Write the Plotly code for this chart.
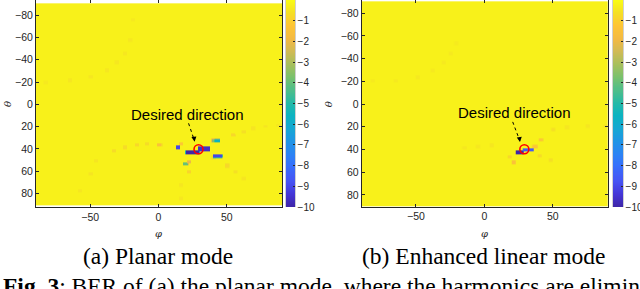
import numpy as np
import plotly.graph_objects as go

# ---------------- data ----------------
phi_axis = np.arange(-90, 91, 1)      # phi grid (deg)
theta_axis = np.arange(-90, 91, 1)    # theta grid (deg)
background_ber = -0.22                 # log10 BER of the flat region

# Panel (a) planar mode: rectangular patches (phi0, phi1, theta0, theta1, log10 BER)
a_rect_phi0 = [19.5, 28.5, 12.5, 40.5, 38.5, 39.5, 18, 21]
a_rect_phi1 = [29.5, 38, 16, 44.5, 40.5, 46.5, 21.5, 23.5]
a_rect_th0 = [40.5, 37.5, 37, 31, 31, 44.5, 51.5, 49.5]
a_rect_th1 = [45, 41.5, 40, 34, 34, 47.5, 54.5, 52.5]
a_rect_val = [-10, -9.6, -9, -5.6, -3.5, -9, -4, -2]

# Panel (a): faint sidelobe dashes (phi, theta, log10 BER)
a_dash_phi = [0, 16, 22, 50, 54, -33, -25, -16, -9, 1, -46, -50, -58,
              -83, -65, -50, -38, -31, -25, -21, -19,
              55, 62, 69, 78, 87, 40, 50, 56, 62, 16, 16]
a_dash_theta = [36, 35, 60, 55, 27, 41, 38, 36, 35, 36, 50, 62, 77,
                -20, -22, -25, -31, -38, -46, -58, -76,
                27.5, 24, 21, 19.5, 18.5, 47, 54, 60, 66, 72, 84]
a_dash_val = [-1.4, -1.2, -0.9, -0.8, -0.8, -0.7, -0.7, -0.8, -0.7, -0.9, -0.5, -0.5, -0.45,
              -0.4, -0.45, -0.45, -0.45, -0.45, -0.45, -0.45, -0.4,
              -0.6, -0.6, -0.5, -0.5, -0.45, -0.7, -0.7, -0.6, -0.5, -0.45, -0.45]

# Panel (b) enhanced linear mode: rectangular patches
b_rect_phi0 = [22.5, 27.5]
b_rect_phi1 = [28.5, 35.5]
b_rect_th0 = [41, 39]
b_rect_th1 = [44, 42]
b_rect_val = [-10, -8.6]

# Panel (b): faint sidelobe dashes
b_dash_phi = [41, 36.5, 20.7, 50, 18, -82, -65, -49, -38, -30, -25, -21,
              -15, -5, 5, 40, 48, 60, 75, 88]
b_dash_theta = [31, 37, 51, 22, 46, -21, -21, -24, -30, -37, -45, -54,
                38, 37, 36, 45, 49, 20, 19, 19]
b_dash_val = [-1.2, -1.3, -1.4, -0.6, -0.8, -0.38, -0.4, -0.4, -0.4, -0.4, -0.4, -0.38,
              -0.42, -0.42, -0.45, -0.7, -0.6, -0.45, -0.45, -0.42]

# desired direction marker
a_target = (29.3, 40.3)
b_target = (29.2, 39.8)

# colour bar ticks
cbar_ticks = [-1, -2, -3, -4, -5, -6, -7, -8, -9, -10]
cbar_levels = np.linspace(-10, 0, 201)
x_ticks = [-50, 0, 50]
y_ticks = [-80, -60, -40, -20, 0, 20, 40, 60, 80]

# ---------------- build grids ----------------
def build_grid(r0, r1, t0, t1, rv, dp, dt, dv):
    P, T = np.meshgrid(phi_axis, theta_axis)
    Z = np.full(P.shape, background_ber, dtype=float)
    for p, t, v in zip(dp, dt, dv):
        m = (np.abs(P - p) <= 1.6) & (np.abs(T - t) <= 1.0)
        Z[m] = np.minimum(Z[m], v)
    for a, b, c, d, v in zip(r0, r1, t0, t1, rv):
        m = (P >= a) & (P < b) & (T >= c) & (T < d)
        Z[m] = v
    return Z

Za = build_grid(a_rect_phi0, a_rect_phi1, a_rect_th0, a_rect_th1, a_rect_val,
                a_dash_phi, a_dash_theta, a_dash_val)
Zb = build_grid(b_rect_phi0, b_rect_phi1, b_rect_th0, b_rect_th1, b_rect_val,
                b_dash_phi, b_dash_theta, b_dash_val)

parula = [
    [0.000, "#3e26a8"], [0.060, "#4435d6"], [0.125, "#4653f3"], [0.200, "#3670fc"],
    [0.250, "#2d81f5"], [0.320, "#1f96e4"], [0.375, "#17a6d4"], [0.440, "#0cb3c1"],
    [0.500, "#24b9a8"], [0.560, "#4bbd8c"], [0.625, "#78c16d"], [0.690, "#a7bf5c"],
    [0.750, "#d0ba55"], [0.810, "#f2b944"], [0.875, "#fec535"], [0.940, "#f5e024"],
    [1.000, "#f9fb15"],
]

TXT = "#262626"
tick_font = dict(family="Liberation Sans, Arial", size=10.5, color=TXT)

fig = go.Figure()
for z, xa, ya in [(Za, "x", "y"), (Zb, "x2", "y2")]:
    fig.add_trace(go.Heatmap(x=phi_axis, y=theta_axis, z=z, colorscale=parula,
                             zmin=-10, zmax=0, showscale=False, xaxis=xa, yaxis=ya,
                             zsmooth="best", hoverinfo="skip"))
for tgt, xa, ya in [(a_target, "x", "y"), (b_target, "x2", "y2")]:
    fig.add_trace(go.Scatter(x=[tgt[0]], y=[tgt[1]], mode="markers",
                             marker=dict(symbol="circle-open", size=9, color="#ff0000",
                                         line=dict(width=1.6, color="#ff0000")),
                             xaxis=xa, yaxis=ya, showlegend=False, hoverinfo="skip"))
# colour bars drawn as thin heatmap strips
for xa, ya in [("x3", "y3"), ("x4", "y4")]:
    fig.add_trace(go.Heatmap(x=[0], y=cbar_levels, z=[[v] for v in cbar_levels],
                             colorscale=parula, zmin=-10, zmax=0, showscale=False,
                             xaxis=xa, yaxis=ya, hoverinfo="skip"))

axis_common = dict(showline=True, linecolor=TXT, linewidth=1, mirror="allticks",
                   ticks="inside", ticklen=3, tickcolor=TXT, showgrid=False,
                   zeroline=False, tickfont=tick_font, automargin=False)
cb_x = dict(showline=False, showticklabels=False, ticks="", showgrid=False, zeroline=False,
            range=[-0.5, 0.5], automargin=False)
cb_y = dict(side="right", range=[-10, 0.0], tickvals=cbar_ticks, ticks="inside", ticklen=2,
            tickcolor=TXT, showline=True, linecolor="#b0b0b0", linewidth=0.6, mirror=True,
            showgrid=False, zeroline=False, automargin=False,
            tickfont=dict(family="Liberation Sans, Arial", size=10, color=TXT))

fig.update_layout(
    width=640, height=289, margin=dict(l=0, r=0, t=0, b=0, autoexpand=False),
    paper_bgcolor="white", plot_bgcolor="white", showlegend=False,
    xaxis=dict(domain=[36/640, 282/640], range=[-89.7, 90.4], tickvals=x_ticks,
               anchor="y", **axis_common),
    yaxis=dict(domain=[1 - 207/289, 1], range=[92, -93.5], tickvals=y_ticks,
               anchor="x", **axis_common),
    xaxis2=dict(domain=[361.7/640, 608/640], range=[-89.6, 90.3], tickvals=x_ticks,
                anchor="y2", **axis_common),
    yaxis2=dict(domain=[1 - 206.7/289, 1], range=[90.4, -91.7], tickvals=y_ticks,
                anchor="x2", **axis_common),
    xaxis3=dict(domain=[286/640, 295/640], anchor="y3", **cb_x),
    yaxis3=dict(domain=[1 - 207/289, 1], anchor="x3", **cb_y),
    xaxis4=dict(domain=[613/640, 623/640], anchor="y4", **cb_x),
    yaxis4=dict(domain=[1 - 207/289, 1], anchor="x4", **cb_y),
)

ann = []
# "Desired direction" labels
for xr, yr, tx, ty, t0, t1, h in [("x", "y", 21.4, 8.7, (22, 17), (26.0, 31.5), (26.4, 33.5)),
                                   ("x2", "y2", 21.7, 7.3, (20.7, 15.7), (25.6, 31.4), (26.0, 33.4))]:
    ann.append(dict(x=tx, y=ty, xref=xr, yref=yr, text="Desired direction", showarrow=False,
                    xanchor="center", yanchor="middle",
                    font=dict(family="Liberation Sans, Arial", size=15, color="black")))
    fig.add_shape(type="line", x0=t0[0], y0=t0[1], x1=t1[0], y1=t1[1], xref=xr, yref=yr,
                  line=dict(color="black", width=1, dash="dot"))
    ann.append(dict(x=h[0], y=h[1], ax=t1[0], ay=t1[1] - 1.5, xref=xr, yref=yr,
                    axref=xr, ayref=yr, text="", showarrow=True, arrowhead=2,
                    arrowsize=1, arrowwidth=1, arrowcolor="black"))

# axis labels
lab_font = dict(family="DejaVu Serif", size=10, color=TXT)
def paper_text(px, py, text, font, **kw):
    d = dict(x=px/640, y=1 - py/289, xref="paper", yref="paper", text=text,
             showarrow=False, font=font, xanchor="center", yanchor="middle")
    d.update(kw)
    return d

ann += [
    paper_text(8, 104, "<i>θ</i>", lab_font, textangle=-90),
    paper_text(329.3, 104, "<i>θ</i>", lab_font, textangle=-90),
    paper_text(158.3, 233, "<i>φ</i>", lab_font),
    paper_text(484.3, 233, "<i>φ</i>", lab_font),
]
cap_font = dict(family="Liberation Serif", size=23.5, color="black")
ann += [
    paper_text(157.5, 256, "(a) Planar mode", cap_font),
    paper_text(483.3, 256, "(b) Enhanced linear mode", cap_font),
    paper_text(1, 286, "<b>Fig. 3</b>: BER of (a) the planar mode, where the harmonics are eliminated",
               cap_font, xanchor="left"),
]
fig.update_layout(annotations=ann)

fig.write_html("out.html", config={"displayModeBar": False, "staticPlot": True},
               post_script="document.body.style.margin='0';document.body.style.overflow='hidden';")
